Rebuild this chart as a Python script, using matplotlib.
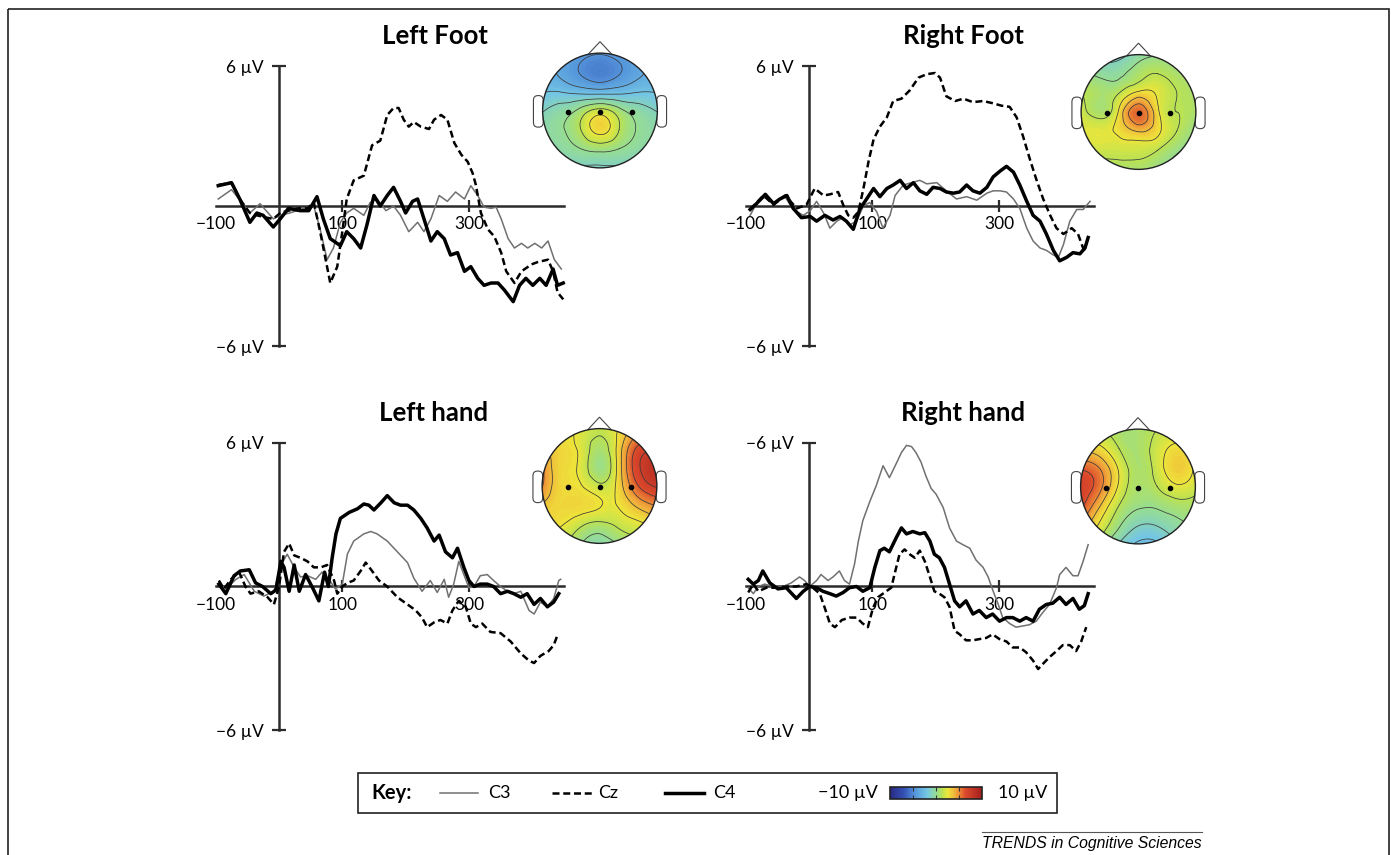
import matplotlib
matplotlib.use('Agg')
import matplotlib.pyplot as plt
import matplotlib.tri as mtri
import numpy as np
from matplotlib.colors import LinearSegmentedColormap, Normalize
from matplotlib.cm import ScalarMappable
from matplotlib.patches import Circle, Polygon, FancyBboxPatch, Rectangle

W, H = 1391, 855
plt.rcParams['font.family'] = ['Lato', 'DejaVu Sans']

# ---------- ERP traces: time (ms) / amplitude (µV) ----------
# Left Foot
lf_c3_t = [-96, -75, -46, -30, -9, 2, 17, 39, 55, 65, 76, 86, 97, 107, 118, 134, 144, 155, 169, 181, 192, 205, 219,
           229, 240, 253, 266, 279, 293, 303, 314, 324, 335, 343, 351, 362, 372, 383, 393, 404, 415, 425, 435, 446]
lf_c3_v = [0.3, 0.7, -0.3, 0.1, -0.55, -0.4, -0.3, -0.1, 0.0, -1.0, -2.3, -1.8, -0.7, -0.3, -0.1, -0.4, 0.15, 0.3,
           -0.2, 0.0, -0.4, -1.1, -0.7, -1.1, -0.55, 0.45, 0.2, 0.6, 0.3, 0.87, 0.45, -0.05, -0.1, -0.05, -0.55, -1.4,
           -1.8, -1.6, -1.8, -1.6, -1.8, -1.5, -2.3, -2.7]
lf_cz_t = [-96, -75, -62, -46, -35, -20, -9, 2, 15, 30, 45, 55, 65, 81, 92, 100, 107, 118, 134, 147, 160, 171, 181,
           189, 197, 205, 213, 224, 237, 245, 256, 266, 277, 288, 298, 306, 311, 319, 330, 340, 351, 359, 372, 383,
           399, 409, 425, 433, 440, 449]
lf_cz_v = [0.9, 1.0, 0.3, -0.3, -0.4, -0.5, -0.55, -0.3, -0.2, -0.1, -0.1, 0.15, -1.1, -3.3, -2.6, -1.1, 0.3, 1.1,
           1.3, 2.6, 2.8, 3.9, 4.2, 4.2, 3.7, 3.4, 3.6, 3.4, 3.3, 3.7, 3.9, 3.7, 2.7, 2.2, 1.9, 1.4, 0.9, -0.3, -1.0,
           -1.3, -2.0, -2.8, -3.3, -2.8, -2.5, -2.4, -2.3, -2.8, -3.7, -4.0]
lf_c4_t = [-96, -75, -62, -46, -35, -25, -9, 2, 15, 33, 47, 60, 70, 81, 97, 107, 118, 129, 139, 150, 160, 171, 181,
           192, 200, 211, 219, 229, 240, 250, 261, 271, 282, 293, 303, 314, 324, 335, 346, 356, 370, 380, 390, 401,
           412, 422, 433, 440, 449]
lf_c4_v = [0.87, 1.0, 0.3, -0.7, -0.3, -0.4, -0.9, -0.55, -0.1, -0.2, -0.2, 0.4, -0.55, -1.4, -1.7, -1.1, -1.4, -1.8,
           -0.8, 0.45, 0.0, 0.45, 0.8, 0.2, -0.3, 0.2, 0.3, -0.55, -1.5, -1.1, -1.4, -2.1, -2.0, -2.8, -2.6, -3.1,
           -3.4, -3.3, -3.3, -3.6, -4.1, -3.4, -3.1, -3.4, -3.1, -3.4, -2.7, -3.4, -3.3]

# Right Foot
rf_c3_t = [-93, -83, -69, -56, -38, -25, -9, 2, 12, 23, 33, 44, 54, 65, 75, 86, 96, 107, 117, 128, 136, 149, 162,
           175, 186, 202, 217, 233, 249, 265, 281, 291, 302, 312, 323, 333, 344, 354, 365, 375, 386, 394, 402, 412,
           423, 433, 444]
rf_c3_v = [-0.4, 0.1, 0.4, 0.1, 0.4, -0.15, -0.4, -0.2, 0.2, -0.3, -0.95, -0.65, -0.5, -0.8, -0.65, 0.0, 0.15, -0.25,
           -0.95, -0.4, 0.45, 0.9, 1.0, 1.1, 0.95, 1.0, 0.65, 0.3, 0.4, 0.25, 0.55, 0.65, 0.65, 0.6, 0.3, -0.1,
           -0.95, -1.5, -1.8, -1.9, -2.1, -2.2, -1.65, -0.65, -0.15, -0.15, 0.2]
rf_cz_t = [-93, -72, -56, -38, -19, -4, 9, 23, 33, 46, 54, 62, 70, 78, 86, 94, 102, 112, 123, 133, 146, 159, 173,
           186, 199, 207, 217, 231, 244, 259, 275, 291, 304, 317, 328, 338, 349, 359, 370, 381, 391, 402, 415, 425,
           433, 438]
rf_cz_v = [-0.15, 0.45, 0.05, 0.45, -0.1, 0.05, 0.75, 0.45, 0.5, 0.6, 0.05, -0.4, -0.5, -0.25, 0.75, 1.9, 2.85, 3.4,
           3.8, 4.5, 4.6, 4.95, 5.5, 5.65, 5.7, 5.5, 4.7, 4.5, 4.6, 4.45, 4.5, 4.4, 4.3, 4.25, 3.8, 3.0, 2.0, 1.15,
           0.3, -0.4, -0.95, -1.2, -0.95, -1.2, -1.8, -2.05]
rf_c4_t = [-93, -83, -69, -56, -46, -35, -25, -12, 2, 12, 25, 38, 49, 59, 70, 80, 91, 102, 112, 123, 133, 144, 154,
           165, 175, 186, 196, 207, 217, 228, 238, 249, 259, 270, 281, 291, 302, 312, 323, 333, 344, 354, 365, 375,
           386, 396, 407, 417, 428, 436, 441]
rf_c4_v = [-0.15, 0.1, 0.5, 0.1, 0.3, 0.45, -0.1, -0.5, -0.45, -0.65, -0.4, -0.6, -0.45, -0.65, -1.0, -0.15, 0.3,
           0.75, 0.4, 0.75, 0.9, 1.1, 0.75, 1.0, 0.65, 0.5, 0.8, 0.75, 0.6, 0.55, 0.6, 0.9, 0.65, 0.55, 0.8, 1.25,
           1.5, 1.7, 1.45, 0.9, 0.2, -0.4, -0.65, -1.2, -1.9, -2.35, -2.2, -2.0, -2.05, -1.8, -1.35]

# Left hand
lh_c3_t = [-95, -84, -68, -55, -39, -24, -8, 3, 13, 24, 34, 45, 58, 68, 79, 89, 100, 108, 118, 134, 145, 155, 171,
           187, 203, 213, 226, 239, 250, 261, 268, 276, 284, 292, 300, 308, 318, 329, 339, 350, 361, 371, 382, 395,
           403, 413, 424, 434, 442, 445]
lh_c3_v = [0.1, -0.1, 0.3, 0.5, -0.2, -0.4, -0.2, 0.9, 1.35, 0.8, 0.4, 0.45, 0.3, 0.6, 0.3, -0.1, 0.1, 1.35, 1.9, 2.2,
           2.3, 2.2, 1.9, 1.45, 1.0, 0.35, -0.2, 0.25, -0.25, 0.3, -0.45, 0.1, 1.05, 0.5, -0.05, 0.0, 0.45, 0.5, 0.25,
           0.0, -0.2, -0.3, -0.2, -1.0, -1.15, -0.65, -0.85, -0.5, 0.25, 0.3]
lh_cz_t = [-95, -87, -76, -63, -53, -45, -32, -18, -8, 0, 8, 16, 24, 34, 45, 55, 66, 76, 87, 92, 100, 108, 118, 129,
           137, 147, 158, 171, 187, 203, 216, 226, 234, 245, 255, 266, 274, 284, 295, 303, 311, 321, 334, 350, 366,
           382, 395, 403, 413, 426, 434, 439]
lh_cz_v = [0.25, -0.1, 0.3, 0.6, 0.0, -0.3, -0.2, -0.45, -0.75, 0.0, 1.45, 1.8, 1.3, 1.2, 1.05, 0.8, 0.8, 0.9, 0.25,
           -0.3, 0.0, 0.15, 0.25, 0.65, 1.0, 0.65, 0.25, 0.0, -0.45, -0.75, -1.0, -1.3, -1.7, -1.5, -1.4, -1.55, -1.0,
           -0.6, -0.85, -1.55, -1.7, -1.55, -1.9, -1.95, -2.3, -2.8, -3.1, -3.2, -2.9, -2.7, -2.45, -2.1]
lh_c4_t = [-95, -84, -71, -61, -47, -37, -26, -13, -5, 3, 8, 16, 24, 32, 42, 53, 63, 72, 78, 84, 90, 97, 111, 124,
           134, 142, 150, 161, 171, 182, 192, 203, 213, 224, 234, 245, 253, 263, 274, 282, 292, 300, 308, 318, 329,
           339, 350, 361, 371, 382, 392, 403, 413, 424, 434, 442]
lh_c4_v = [0.1, -0.3, 0.45, 0.65, 0.7, 0.15, 0.0, -0.3, -0.15, 1.05, 0.8, -0.2, 0.9, -0.2, 0.5, -0.05, -0.6, 0.6, 0.0,
           1.2, 2.2, 2.85, 3.1, 3.25, 3.45, 3.4, 3.2, 3.5, 3.8, 3.5, 3.4, 3.4, 3.2, 2.85, 2.45, 1.9, 2.15, 1.45, 1.2,
           1.6, 0.8, 0.25, 0.0, 0.1, 0.1, 0.0, -0.3, -0.2, -0.3, -0.45, -0.3, -0.75, -0.5, -0.85, -0.65, -0.3]

# Right hand
rh_c3_t = [-96, -88, -80, -70, -57, -41, -28, -15, -7, 1, 12, 19, 30, 38, 48, 56, 64, 72, 78, 85, 96, 106, 117, 127,
           138, 146, 154, 162, 169, 177, 185, 193, 201, 212, 222, 233, 243, 254, 264, 275, 283, 291, 299, 306, 317,
           327, 338, 348, 359, 369, 380, 391, 396, 406, 417, 425, 433, 441]
rh_c3_v = [-0.05, -0.3, 0.0, 0.1, 0.0, 0.0, 0.15, 0.4, 0.25, 0.0, 0.25, 0.5, 0.25, 0.4, 0.65, 0.25, 0.1, 0.95, 1.9,
           2.75, 3.55, 4.2, 5.05, 4.55, 5.15, 5.6, 5.9, 5.85, 5.6, 5.2, 4.6, 4.1, 3.85, 3.3, 2.45, 1.9, 1.75, 1.6, 1.1,
           0.8, 0.4, -0.2, -0.75, -1.3, -1.55, -1.7, -1.65, -1.6, -1.45, -1.1, -0.75, -0.05, 0.5, 0.8, 0.45, 0.45,
           1.05, 1.75]
rh_cz_t = [-96, -88, -80, -67, -52, -36, -20, -4, 6, 17, 25, 33, 41, 52, 64, 75, 85, 93, 101, 109, 122, 130, 135, 143,
           151, 159, 167, 175, 183, 191, 198, 206, 214, 222, 230, 238, 248, 259, 269, 280, 290, 301, 312, 322, 333,
           343, 354, 362, 369, 380, 391, 401, 412, 422, 430, 438]
rh_cz_v = [-0.25, 0.1, -0.2, -0.05, -0.05, 0.0, 0.0, 0.1, -0.05, -0.3, -0.9, -1.55, -1.7, -1.4, -1.3, -1.3, -1.55,
           -1.7, -0.9, -0.45, -0.2, -0.05, 0.5, 1.35, 1.55, 1.35, 1.2, 1.5, 1.05, 0.4, -0.2, -0.3, -0.45, -0.85, -1.85,
           -2.0, -2.25, -2.25, -2.2, -2.15, -2.0, -2.2, -2.3, -2.55, -2.55, -2.75, -3.1, -3.45, -3.25, -2.95, -2.7,
           -2.45, -2.45, -2.7, -2.3, -1.7]
rh_c4_t = [-96, -88, -80, -73, -62, -49, -36, -20, -9, 1, 12, 22, 33, 43, 54, 64, 75, 85, 96, 104, 112, 119, 127, 138,
           146, 154, 164, 175, 183, 191, 198, 206, 214, 222, 230, 238, 248, 259, 269, 280, 290, 301, 312, 322, 333,
           343, 354, 364, 375, 385, 396, 406, 417, 427, 435, 441]
rh_c4_v = [0.3, 0.1, 0.25, 0.65, 0.15, -0.1, -0.05, -0.5, -0.2, 0.0, -0.05, -0.2, -0.3, -0.4, -0.25, -0.05, 0.0,
           -0.2, -0.05, 0.8, 1.5, 1.6, 1.45, 2.05, 2.45, 2.2, 2.3, 2.2, 2.25, 1.9, 1.35, 1.2, 0.8, 0.1, -0.6, -0.85,
           -0.6, -1.15, -1.0, -1.3, -1.15, -1.45, -1.3, -1.3, -1.45, -1.3, -1.45, -0.95, -0.75, -0.7, -0.45, -0.75,
           -0.5, -0.95, -0.8, -0.3]

# ---------- scalp maps: 7x7 grids (µV), rows front->back, cols left->right ----------
lf_map = [[-3, -3.5, -4.2, -4.6, -4.2, -3.5, -3],
          [-3, -3.8, -4.8, -5.4, -4.8, -3.8, -3],
          [-2.4, -2.4, -2.8, -3.0, -2.8, -2.4, -2.4],
          [-1.2, -0.5, 0.5, 1.7, 0.5, -0.5, -1.2],
          [-0.6, 0.0, 1.3, 3.0, 1.3, 0.0, -0.6],
          [-0.9, -0.4, 0.1, 0.5, 0.1, -0.4, -0.9],
          [-1.8, -1.4, -1.3, -1.3, -1.3, -1.4, -1.8]]
rf_map = [[-1, -1.5, -1.5, -0.5, 0, 0, 0],
          [0.3, -0.2, -0.2, 0.8, 1.3, 0.8, 0.3],
          [1.3, 0.8, 1.3, 2.8, 2.3, 1.3, 0.8],
          [1.8, 0.8, 2.8, 5.8, 2.8, 1.3, 0.8],
          [2.3, 2.3, 2.8, 3.8, 2.8, 1.3, 0.3],
          [1.8, 1.8, 1.8, 1.8, 1.3, 0.3, -0.3],
          [0.8, 0.8, 0.8, 0.8, 0.3, -0.3, -0.3]]
lh_map = [[3, 2.6, 2.2, 1.6, 2.6, 4, 5],
          [4, 3, 2.2, 0.8, 3, 6.3, 7],
          [5, 3, 2.2, 0.3, 3, 7, 8.3],
          [5, 3, 2.6, 1.6, 3, 6, 7.5],
          [3.6, 3, 3, 2.6, 2.6, 4, 5],
          [3, 2.6, 1.6, 1, 1.6, 2.2, 3],
          [2, 1.5, 0.2, -0.5, 0.2, 1, 1.6]]
rh_map = [[1.8, 1.3, 0.8, 0.8, 1.3, 1.8, 1.8],
          [3.3, 2.8, 1.3, 0.8, 1.8, 2.8, 2.3],
          [5.8, 4.8, 2.3, 0.8, 1.8, 3.3, 2.3],
          [7, 5.3, 2.3, 0.8, 1.3, 2.3, 1.8],
          [6.5, 3.8, 1.3, 0.3, 0.3, 0.8, 0.8],
          [4.8, 2.3, 0.3, -1.0, -1.0, -0.3, 0.3],
          [2.8, 0.8, -1.2, -2.5, -2.5, -1.2, -0.3]]
electrode_x = [-0.55, 0.0, 0.55]
electrode_names = ['C3', 'Cz', 'C4']

titles = ['Left Foot', 'Right Foot', 'Left hand', 'Right hand']
ytick_labels = [['\u22126 \u00b5V', '6 \u00b5V'], ['\u22126 \u00b5V', '6 \u00b5V'],
                ['\u22126 \u00b5V', '6 \u00b5V'], ['\u22126 \u00b5V', '\u22126 \u00b5V']]

# colour scale of the key (-10 .. 10 µV)
cmap = LinearSegmentedColormap.from_list('key', [
    (0.00, '#282a84'), (0.15, '#3450b4'), (0.27, '#5596dc'), (0.40, '#74c6e4'),
    (0.50, '#94dc96'), (0.57, '#bce250'), (0.63, '#eee63a'), (0.72, '#f0a83a'),
    (0.82, '#dc4a2c'), (1.00, '#a41e1e')])
norm = Normalize(-10, 10)

fig = plt.figure(figsize=(W / 100, H / 100), dpi=100)


def px_axes(left, top, w, h):
    return fig.add_axes([left / W, 1 - (top + h) / H, w / W, h / H])


# overlay in pixel units for frame, titles, key, footer
ov = px_axes(0, 0, W, H)
ov.set_xlim(0, W)
ov.set_ylim(H, 0)
ov.axis('off')
ov.add_patch(Rectangle((8, 9), 1381, 870, fill=False, ec='#222222', lw=1.2, clip_on=False))

PXMS = 0.633  # pixels per ms
panels = [
    dict(x0=279, top=66, h=280, tx=435, ty=44, head=(600, 110.5),
         series=(lf_c3_t, lf_c3_v, lf_cz_t, lf_cz_v, lf_c4_t, lf_c4_v), grid=lf_map),
    dict(x0=809, top=66, h=280, tx=963, ty=44, head=(1138.5, 112),
         series=(rf_c3_t, rf_c3_v, rf_cz_t, rf_cz_v, rf_c4_t, rf_c4_v), grid=rf_map),
    dict(x0=279, top=443, h=287, tx=434, ty=421, head=(599.5, 486),
         series=(lh_c3_t, lh_c3_v, lh_cz_t, lh_cz_v, lh_c4_t, lh_c4_v), grid=lh_map),
    dict(x0=809, top=443, h=287, tx=963, ty=421, head=(1138, 486.5),
         series=(rh_c3_t, rh_c3_v, rh_cz_t, rh_cz_v, rh_c4_t, rh_c4_v), grid=rh_map),
]

AX_COL = '#2b2b2b'
C3_STYLE = dict(color='#707070', lw=1.1)
CZ_STYLE = dict(color='black', lw=1.8, ls=(0, (2.8, 1.5)))
C4_STYLE = dict(color='black', lw=2.5)


def draw_head(cx, cy, grid):
    ax = px_axes(cx - 70, cy - 70, 140, 140)
    ax.set_xlim(-1.22, 1.22)
    ax.set_ylim(-1.22, 1.22)
    ax.axis('off')
    g = np.linspace(-1, 1, 7)
    xx, yy = np.meshgrid(g, g[::-1])
    tri = mtri.Triangulation(xx.ravel(), yy.ravel())
    tri_f, z_f = mtri.UniformTriRefiner(tri).refine_field(np.asarray(grid, float).ravel(), subdiv=4)
    clip = Circle((0, 0), 1.0, transform=ax.transData)
    cf = ax.tricontourf(tri_f, z_f, levels=np.linspace(-10, 10, 101), cmap=cmap, norm=norm, extend='both',
                        zorder=1)
    cf.set_clip_path(clip)
    cl = ax.tricontour(tri_f, z_f, levels=np.arange(-9.5, 10, 1.2), colors='#3a3a3a', linewidths=0.55,
                       linestyles='solid', zorder=2)
    cl.set_clip_path(clip)
    for sx in (-1, 1):
        x_left = -1.16 if sx < 0 else 0.99
        ax.add_patch(FancyBboxPatch((x_left, -0.29), 0.17, 0.55,
                                    boxstyle='round,pad=0,rounding_size=0.08',
                                    fc='white', ec='#444444', lw=0.8, zorder=0.5))
    ax.add_patch(Polygon([(-0.21, 0.975), (0, 1.2), (0.21, 0.975)], closed=False, fill=False,
                         ec='#444444', lw=0.8, zorder=0.5))
    ax.add_patch(Circle((0, 0), 1.0, fill=False, ec='#222222', lw=1.0, zorder=3))
    ax.scatter(electrode_x, [-0.02] * len(electrode_x), s=9, c='black', zorder=4)


for title, ylab, p in zip(titles, ytick_labels, panels):
    ax = px_axes(p['x0'] - 100 * PXMS, p['top'], 560 * PXMS, p['h'])
    ax.set_xlim(-100, 460)
    ax.set_ylim(-6, 6)
    ax.patch.set_visible(False)
    c3t, c3v, czt, czv, c4t, c4v = p['series']
    ax.plot(c3t, c3v, clip_on=False, zorder=3, **C3_STYLE)
    ax.plot(czt, czv, clip_on=False, zorder=4, **CZ_STYLE)
    ax.plot(c4t, c4v, clip_on=False, zorder=5, **C4_STYLE)

    for s in ('top', 'right'):
        ax.spines[s].set_visible(False)
    ax.spines['left'].set_position(('data', 0))
    ax.spines['bottom'].set_position(('data', 0))
    ax.spines['left'].set_bounds(-6, 6)
    ax.spines['bottom'].set_bounds(-100, 450)
    for s in ('left', 'bottom'):
        ax.spines[s].set_linewidth(1.8)
        ax.spines[s].set_color(AX_COL)
        ax.spines[s].set_zorder(2)
    ax.set_xticks([-100, 100, 300])
    ax.set_xticklabels(['\u2212100', '100', '300'])
    ax.set_yticks([-6, 6])
    ax.set_yticklabels(ylab)
    ax.tick_params(axis='x', direction='inout', length=8.6, width=1.6, color=AX_COL, pad=3,
                   labelsize=12.5, labelcolor='black')
    ax.tick_params(axis='y', direction='inout', length=9.5, width=1.6, color=AX_COL, pad=6,
                   labelsize=12.5, labelcolor='black')
    ax.xaxis.get_major_ticks()[0].tick1line.set_visible(False)

    ov.text(p['tx'], p['ty'], title, ha='center', va='baseline', fontsize=18.5, fontweight='bold')
    draw_head(p['head'][0], p['head'][1], p['grid'])

# ---------- key ----------
ov.add_patch(Rectangle((358, 773), 699, 40, fill=False, ec='#222222', lw=1.2))
ky = 793
ov.text(371, ky, 'Key:', ha='left', va='center', fontsize=14.5, fontweight='bold')
for (x1, x2, lx), name, st in zip([(440, 478, 488), (552, 593, 598), (665, 704, 713)], electrode_names,
                                  [C3_STYLE, CZ_STYLE, C4_STYLE]):
    ov.plot([x1, x2], [ky, ky], **st)
    ov.text(lx, ky, name, ha='left', va='center', fontsize=13)
ov.text(878, ky, '\u221210 \u00b5V', ha='right', va='center', fontsize=13)
ov.text(998, ky, '10 \u00b5V', ha='left', va='center', fontsize=13)
cax = px_axes(890, 787, 92, 12)
cb = fig.colorbar(ScalarMappable(norm=norm, cmap=cmap), cax=cax, orientation='horizontal')
cb.set_ticks([-5, 0, 5])
cax.tick_params(direction='in', length=3, width=0.8, colors='#333333', labelbottom=False, top=True,
                bottom=True)
cb.outline.set_linewidth(1.2)
cb.outline.set_edgecolor('#222222')

# ---------- footer ----------
ov.plot([982, 1202], [832, 832], color='#555555', lw=0.8)
ov.text(982, 843, 'TRENDS in Cognitive Sciences', ha='left', va='center', fontsize=11.3,
        style='italic', family=['Liberation Sans', 'DejaVu Sans'])

fig.savefig('out.png', dpi=100)
